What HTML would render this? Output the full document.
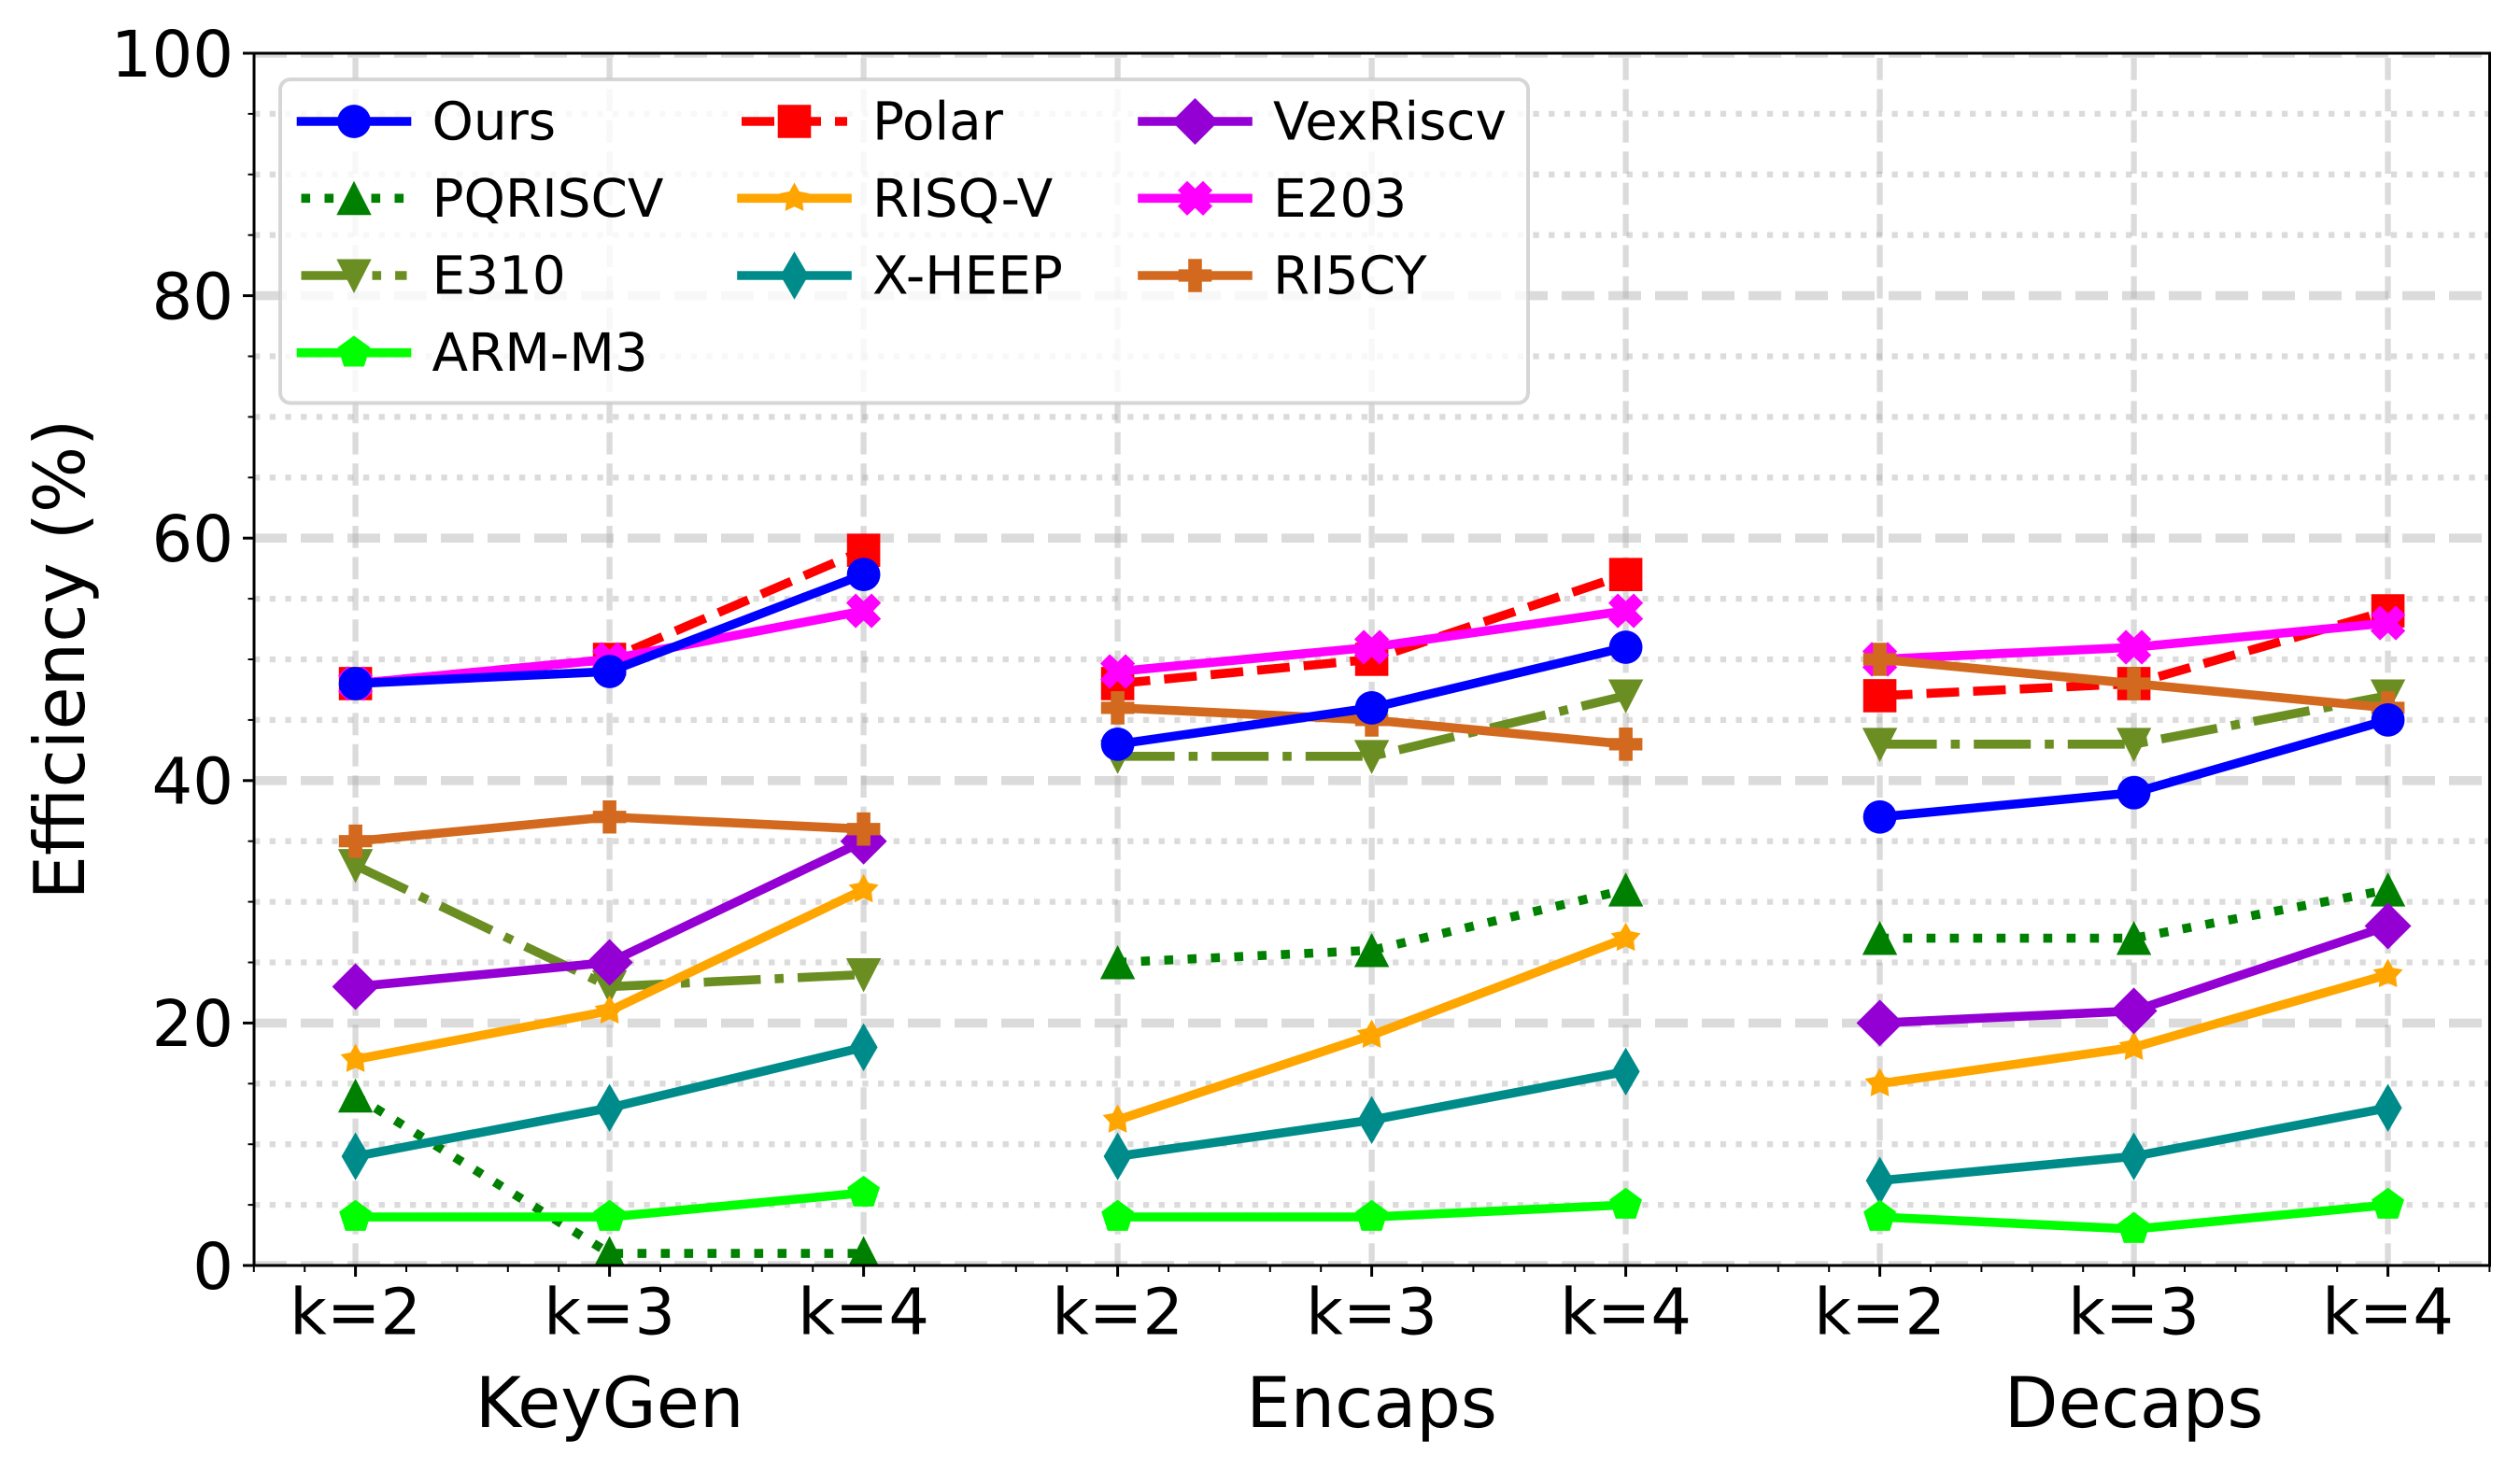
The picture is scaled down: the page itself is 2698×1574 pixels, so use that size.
<!DOCTYPE html>
<html lang="en">
<head>
<meta charset="utf-8">
<title>Efficiency chart</title>
<style>
html,body{margin:0;padding:0;background:#fff;}
svg{display:block;}
text{font-family:"DejaVu Sans","Liberation Sans",sans-serif;fill:#000;text-rendering:geometricPrecision;}
</style>
</head>
<body>
<svg id="chart" xmlns="http://www.w3.org/2000/svg" width="2698" height="1574" viewBox="0 0 2698 1574">
  <defs><clipPath id="plot-clip"><rect x="272" y="57" width="2393.5" height="1298"/></clipPath></defs>
  <rect x="0" y="0" width="2698" height="1574" fill="#fff"/>
  <g id="grid" clip-path="url(#plot-clip)"></g>
  <g id="series" clip-path="url(#plot-clip)"></g>
  <g id="ticks"></g>
  <g id="spines" fill="none" stroke="#000" stroke-width="3">
    <rect x="272" y="57" width="2393.5" height="1298"/>
  </g>
  <g id="legend">
    <rect x="300" y="85" width="1336" height="346.5" rx="11" ry="11" fill="#fff" fill-opacity="0.8" stroke="#cccccc" stroke-opacity="0.8" stroke-width="4"/>
  </g>
  <text transform="translate(90,706) rotate(-90)" text-anchor="middle" font-size="75">Efficiency (%)</text>
</svg>
<script>
// ---- chart data ----
const categories = ['k=2','k=3','k=4','k=2','k=3','k=4','k=2','k=3','k=4'];
const groupLabels = ['KeyGen','Encaps','Decaps'];
const groupCenters = [1, 4, 7];
const yMajorTicks = [0, 20, 40, 60, 80, 100];
const yMinorTicks = [5, 10, 15, 25, 30, 35, 45, 50, 55, 65, 70, 75, 85, 90, 95];
const oursValues = [48, 49, 57, 43, 46, 51, 37, 39, 45];
const pqriscvValues = [14, 1, 1, 25, 26, 31, 27, 27, 31];
const e310Values = [33, 23, 24, 42, 42, 47, 43, 43, 47];
const armM3Values = [4, 4, 6, 4, 4, 5, 4, 3, 5];
const polarValues = [48, 50, 59, 48, 50, 57, 47, 48, 54];
const risqVValues = [17, 21, 31, 12, 19, 27, 15, 18, 24];
const xHeepValues = [9, 13, 18, 9, 12, 16, 7, 9, 13];
const vexRiscvValues = [23, 25, 35, null, null, null, 20, 21, 28];
const e203Values = [48, 50, 54, 49, 51, 54, 50, 51, 53];
const ri5cyValues = [35, 37, 36, 46, 45, 43, 50, 48, 46];

// ---- axis functions ----
const X0 = 380.6, XSTEP = 272, Y0 = 1355, YUNIT = 12.98;
function xScale(i){ return X0 + XSTEP * i; }
function yScale(v){ return Y0 - YUNIT * v; }

// ---- series appearance, in legend order ----
const LW = 9.6;
const solid = null, dotted = '9.6 15.4', dashed = '35 15', dashdot = '61 15 9.6 15';
const series = [
  {key:'ours',     name:'Ours',     values:oursValues,     color:'#0000ff', dash:solid,   marker:'circle'},
  {key:'pqriscv',  name:'PQRISCV',  values:pqriscvValues,  color:'#008000', dash:dotted,  marker:'up'},
  {key:'e310',     name:'E310',     values:e310Values,     color:'#6b8e23', dash:dashdot, marker:'down'},
  {key:'arm-m3',   name:'ARM-M3',   values:armM3Values,    color:'#00ff00', dash:solid,   marker:'pentagon'},
  {key:'polar',    name:'Polar',    values:polarValues,    color:'#ff0000', dash:dashed,  marker:'square'},
  {key:'risq-v',   name:'RISQ-V',   values:risqVValues,    color:'#ffa500', dash:solid,   marker:'star'},
  {key:'x-heep',   name:'X-HEEP',   values:xHeepValues,    color:'#008b8b', dash:solid,   marker:'thin'},
  {key:'vexriscv', name:'VexRiscv', values:vexRiscvValues, color:'#9400d3', dash:solid,   marker:'diamond'},
  {key:'e203',     name:'E203',     values:e203Values,     color:'#ff00ff', dash:solid,   marker:'x'},
  {key:'ri5cy',    name:'RI5CY',    values:ri5cyValues,    color:'#d2691e', dash:solid,   marker:'plus'}
];
const drawOrder = ['pqriscv','e310','polar','risq-v','x-heep','vexriscv','e203','ri5cy','arm-m3','ours'];

const NS = 'http://www.w3.org/2000/svg';
function mk(parent, tag, attrs){
  const el = document.createElementNS(NS, tag);
  for (const k in attrs) el.setAttribute(k, attrs[k]);
  parent.appendChild(el);
  return el;
}
function polyPoints(pts, cx, cy){
  return pts.map(function(p){ return (cx + p[0]).toFixed(2) + ',' + (cy + p[1]).toFixed(2); }).join(' ');
}
function regular(n, r, inner){
  const pts = [];
  const count = inner ? n * 2 : n;
  for (let i = 0; i < count; i++){
    const a = -Math.PI / 2 + i * 2 * Math.PI / count;
    const rr = inner && i % 2 ? inner : r;
    pts.push([rr * Math.cos(a), rr * Math.sin(a)]);
  }
  return pts;
}
const shapes = {
  up: [[0,-18.5],[-18.7,18],[18.7,18]],
  down: [[0,19],[-18.7,-17.5],[18.7,-17.5]],
  square: [[-17.8,-17.8],[17.8,-17.8],[17.8,17.8],[-17.8,17.8]],
  thin: [[0,-25.7],[15,0],[0,25.7],[-15,0]],
  diamond: [[0,-25],[25,0],[0,25],[-25,0]],
  x: [[-8.5,-18.6],[0,-10.4],[8.5,-18.6],[18.6,-8.5],[10.4,0],[18.6,8.5],[8.5,18.6],[0,10.4],[-8.5,18.6],[-18.6,8.5],[-10.4,0],[-18.6,-8.5]],
  plus: [[-7.3,-17.8],[7.3,-17.8],[7.3,-6.6],[17.8,-6.6],[17.8,6.6],[7.3,6.6],[7.3,17.8],[-7.3,17.8],[-7.3,6.6],[-17.8,6.6],[-17.8,-6.6],[-7.3,-6.6]],
  pentagon: regular(5, 18.3),
  star: regular(5, 16.8, 9)
};
function drawMarker(parent, kind, cx, cy, color){
  if (kind === 'circle') return mk(parent, 'circle', {cx:cx, cy:cy, r:17.9, fill:color});
  return mk(parent, 'polygon', {points:polyPoints(shapes[kind], cx, cy), fill:color});
}

// ---- grid ----
const gridG = document.getElementById('grid');
const GRID = {stroke:'#b0b0b0', 'stroke-opacity':0.45};
yMinorTicks.forEach(function(v){
  const l = mk(gridG, 'line', {x1:272, x2:2666, y1:yScale(v), y2:yScale(v), stroke:GRID.stroke, 'stroke-opacity':GRID['stroke-opacity'], 'stroke-width':6.3, 'stroke-dasharray':'6.3 10.4'});
  
  
});
yMajorTicks.forEach(function(v){
  const l = mk(gridG, 'line', {x1:272, x2:2666, y1:yScale(v), y2:yScale(v), stroke:GRID.stroke, 'stroke-opacity':GRID['stroke-opacity'], 'stroke-width':9.6, 'stroke-dasharray':'35 15'});
  
  
});
categories.forEach(function(c, i){
  const l = mk(gridG, 'line', {x1:xScale(i), x2:xScale(i), y1:Y0, y2:57, stroke:GRID.stroke, 'stroke-opacity':GRID['stroke-opacity'], 'stroke-width':6.3, 'stroke-dasharray':'23.8 9.6'});
  
  
});

// ---- ticks and tick labels ----
const tickG = document.getElementById('ticks');
yMajorTicks.forEach(function(v){
  const t = mk(tickG, 'line', {x1:260, x2:272, y1:yScale(v), y2:yScale(v), stroke:'#000', 'stroke-width':3});
  
  
  const lab = mk(tickG, 'text', {x:250, y:yScale(v) + 24.8, 'text-anchor':'end', 'font-size':68.8});
  lab.textContent = String(v);
  
  
});
yMinorTicks.forEach(function(v){
  const t = mk(tickG, 'line', {x1:265.5, x2:272, y1:yScale(v), y2:yScale(v), stroke:'#000', 'stroke-width':2});
  
  
});
categories.forEach(function(c, i){
  const t = mk(tickG, 'line', {x1:xScale(i), x2:xScale(i), y1:Y0, y2:1367, stroke:'#000', 'stroke-width':3});
  
  
  const lab = mk(tickG, 'text', {x:xScale(i), y:1428.3, 'text-anchor':'middle', 'font-size':68.6});
  lab.textContent = c;
  
  
});
for (let n = 0; n <= 44; n++){
  if (n % 5 === 2) continue;
  const pos = -0.4 + n * 0.2;
  const t = mk(tickG, 'line', {x1:xScale(pos), x2:xScale(pos), y1:Y0, y2:1362, stroke:'#000', 'stroke-width':2});
  
  
}
groupLabels.forEach(function(g, i){
  const lab = mk(tickG, 'text', {x:xScale(groupCenters[i]), y:1528, 'text-anchor':'middle', 'font-size':75});
  lab.textContent = g;
  
  
});

// ---- series ----
const seriesG = document.getElementById('series');
drawOrder.forEach(function(key){
  const s = series.find(function(d){ return d.key === key; });
  const g = mk(seriesG, 'g', {});
  
  
  for (let start = 0; start < s.values.length; start += 3){
    const pts = [];
    for (let i = start; i < start + 3; i++){
      if (s.values[i] !== null) pts.push([xScale(i), yScale(s.values[i])]);
    }
    if (pts.length < 2) continue;
    const attrs = {points:pts.map(function(p){ return p[0] + ',' + p[1]; }).join(' '), fill:'none', stroke:s.color, 'stroke-width':LW, 'stroke-linejoin':'round', 'stroke-linecap':s.dash ? 'butt' : 'square'};
    if (s.dash) attrs['stroke-dasharray'] = s.dash;
    const line = mk(g, 'polyline', attrs);
    
    
  }
  s.values.forEach(function(v, i){
    if (v === null) return;
    const m = drawMarker(g, s.marker, xScale(i), yScale(v), s.color);
    
    
  });
});

// ---- legend ----
const legendG = document.getElementById('legend');
const legendCols = [322.5, 794, 1223];
const legendRows = [[130,212.3,295,377.7],[130,212.3,295],[130,212.3,295]];
let legendIndex = 0;
legendRows.forEach(function(rows, c){
  rows.forEach(function(rowY){
    const s = series[legendIndex++];
    const x0 = legendCols[c], x1 = x0 + 113;
    const g = mk(legendG, 'g', {});
    
    
    const attrs = {x1:x0, x2:x1, y1:rowY, y2:rowY, stroke:s.color, 'stroke-width':LW, 'stroke-linecap':s.dash ? 'butt' : 'square'};
    if (s.dash) attrs['stroke-dasharray'] = s.dash;
    const h = mk(g, 'line', attrs);
    
    
    const m = drawMarker(g, s.marker, (x0 + x1) / 2, rowY, s.color);
    
    
    const t = mk(g, 'text', {x:x1 + 27, y:rowY + 19.5, 'font-size':56.4});
    t.textContent = s.name;
    
    
  });
});
</script>
</body>
</html>
